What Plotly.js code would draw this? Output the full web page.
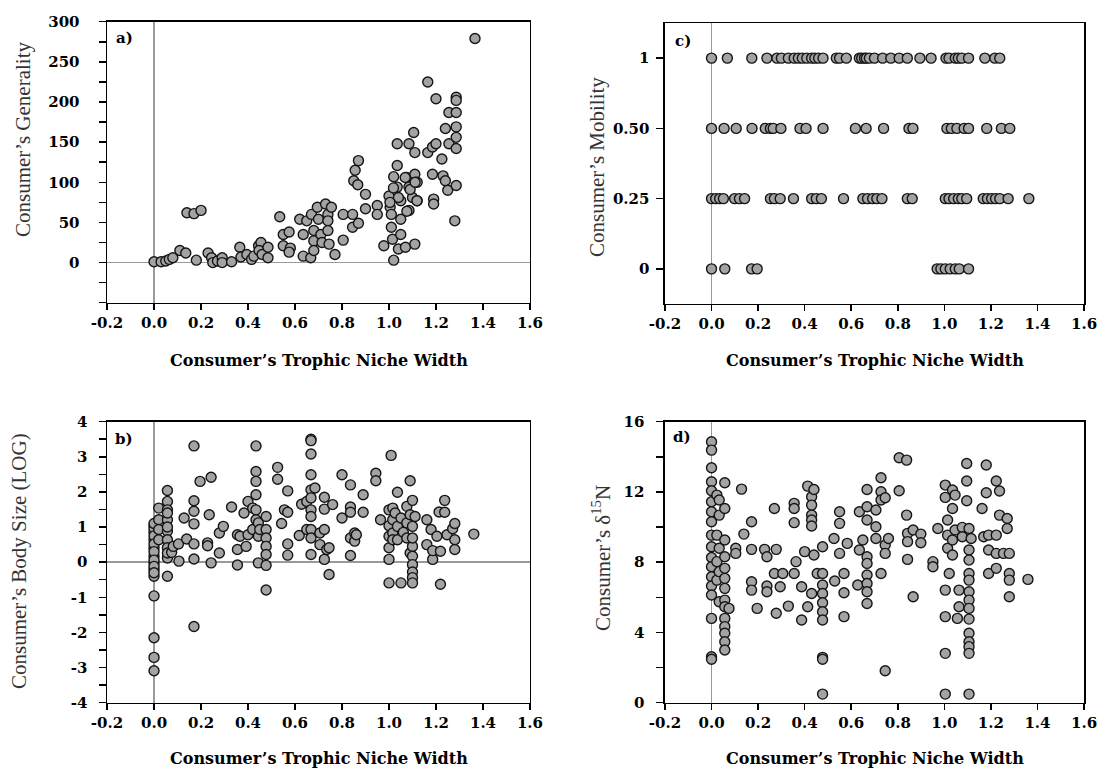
<!DOCTYPE html>
<html><head><meta charset="utf-8">
<script src="https://cdn.plot.ly/plotly-3.0.1.min.js"></script>
<style>html,body{margin:0;padding:0;background:#fff}#chart{width:1100px;height:778px}</style>
</head><body><div id="chart"></div><script>
// ---------- Panel a) Consumer's Generality ----------
const aX = [
 0,0.03,0.05,0.065,0.08,
 0.11,0.135,
 0.14,0.17,0.2,
 0.18,
 0.23,0.245,0.25,0.27,0.29,0.29,0.33,
 0.365,0.37,0.395,0.415,0.425,
 0.445,0.455,0.447,0.46,0.485,0.485,
 0.535,0.55,0.575,0.55,0.58,0.575,
 0.62,0.635,0.635,0.65,
 0.667,0.67,0.68,0.68,0.68,0.695,0.70,0.71,0.715,
 0.73,0.74,0.74,0.74,0.745,0.755,0.77,
 0.805,0.805,0.845,0.845,0.85,0.856,0.87,0.867,0.87,
 0.9,0.9,0.95,0.95,
 0.978,1.0,1.005,1.01,1.01,1.015,1.02,1.02,
 1.035,1.035,1.035,1.04,1.05,1.05,1.05,
 1.07,1.075,1.085,1.085,1.085,
 1.1,1.105,1.11,1.11,1.11,1.12,1.12,
 1.04,1.069,1.09,1.111,1.119,1.076,1.019,1.004,
 1.165,1.165,1.185,1.185,1.19,1.19,1.2,1.2,
 1.225,1.23,1.24,1.25,1.24,1.255,1.255,1.28,
 1.286,1.286,1.286,1.286,1.286,1.286,1.286,
 1.366];
const aY = [
 1,1,2,4,6,
 15,12,
 62,61,65,
 3,
 12,6,0,2,6,0,1,
 19,7,10,4,8,
 21,25,15,10,19,6,
 57,35,38,21,18,13,
 54,8,35,52,
 6,60,40,27,15,69,54,35,25,
 73,60,52,40,23,69,10,
 28,60,60,44,102,115,127,97,49,
 85,67,71,60,
 21,83,69,60,44,29,107,3,
 121,148,94,17,35,54,77,
 19,106,65,94,148,
 81,162,137,110,23,100,77,
 81,106,91,100,77,64,93,75,
 225,137,144,110,79,73,204,148,
 129,108,102,90,167,187,148,52,
 206,202,187,169,156,142,96,
 279];

// ---------- Panel c) Consumer's Mobility (ordinal levels) ----------
const mobilityLevels = ['0','0.25','0.50','1'];
const cX_1 = [0,0.068,0.173,0.238,0.281,0.30,0.33,0.355,0.373,0.39,0.409,0.43,0.444,0.46,0.479,0.536,0.55,0.579,0.635,0.645,0.657,0.665,0.678,0.70,0.735,0.77,0.806,0.841,0.895,0.943,1.007,1.02,1.047,1.06,1.075,1.104,1.174,1.217,1.238];
const cX_050 = [0,0.054,0.106,0.174,0.231,0.253,0.265,0.298,0.38,0.406,0.479,0.618,0.664,0.739,0.848,0.865,1.011,1.03,1.054,1.085,1.104,1.182,1.245,1.281];
const cX_025 = [0,0.018,0.035,0.051,0.099,0.12,0.142,0.253,0.27,0.295,0.352,0.43,0.45,0.472,0.567,0.65,0.67,0.692,0.71,0.732,0.841,0.862,1.004,1.02,1.04,1.06,1.075,1.096,1.167,1.185,1.203,1.22,1.238,1.274,1.363];
const cX_0 = [0,0.057,0.172,0.196,0.969,0.985,1.004,1.025,1.047,1.064,1.104];

// ---------- Panel b) Consumer's Body Size (LOG) ----------
const bX = [
 0,0,0,0,0,0,0,0,0,0,0,0,
 0,0,0,0,0,0,0,0,
 0.02,0.02,0.02,0.02,
 0.057,0.057,0.057,0.057,0.057,0.057,0.057,0.057,0.057,0.057,0.057,0.057,
 0.075,0.082,0.104,0.106,0.128,0.139,
 0.17,0.17,0.17,0.17,0.17,0.17,0.17,
 0.196,0.228,0.228,0.235,0.243,0.243,0.278,0.278,0.295,0.33,
 0.355,0.355,0.355,0.366,0.383,0.392,0.40,0.40,0.42,0.42,
 0.434,0.434,0.434,0.434,0.434,0.434,
 0.444,0.444,0.444,0.45,
 0.477,0.477,0.477,0.477,0.477,0.477,0.477,
 0.526,0.526,0.543,0.555,0.569,0.569,0.569,0.569,0.618,0.628,0.65,0.65,
 0.668,0.668,0.668,0.668,0.668,0.668,0.668,0.668,0.668,0.668,0.668,
 0.685,0.706,0.706,0.725,0.725,0.725,0.725,0.735,0.745,0.745,0.76,
 0.80,0.80,0.836,0.836,0.836,0.836,0.836,0.854,0.854,0.861,0.89,0.89,0.944,0.944,0.964,
 1.0,1.0,1.0,1.0,1.0,1.0,1.009,1.016,1.016,1.016,1.016,1.026,1.036,1.036,1.036,1.051,1.051,1.061,1.076,1.076,1.076,1.09,1.09,1.09,
 1.1,1.1,1.1,1.1,1.1,1.1,1.1,1.1,1.1,
 1.111,1.161,1.161,1.179,1.186,1.186,1.204,1.213,1.219,1.219,1.237,1.237,1.247,1.271,1.28,1.28,1.28,
 1.361];
const bY = [
 1.04,0.85,0.64,0.41,0.17,-0.02,-0.21,-0.40,-0.96,-2.15,-2.71,-3.09,
 0.95,0.75,0.52,0.30,0.06,-0.12,-0.30,1.10,
 1.54,1.21,0.93,0.64,
 2.04,1.73,1.49,1.21,0.88,0.64,0.41,0.12,-0.40,0.26,1.40,1.00,
 0.28,0.45,0.52,0.03,1.26,0.66,
 3.31,1.75,1.45,1.09,0.52,0.09,-1.83,
 2.30,0.55,0.47,1.35,2.42,-0.02,0.26,0.83,1.02,1.57,
 0.78,0.36,-0.08,0.74,1.40,0.45,1.73,0.78,1.54,0.93,
 3.31,2.58,2.30,1.92,1.49,1.21,
 1.12,0.74,-0.02,0.93,
 1.30,0.93,0.69,0.45,0.22,-0.09,-0.79,
 2.70,2.36,1.10,1.49,2.03,0.52,0.20,1.42,0.76,1.65,1.73,0.93,
 3.50,3.46,3.08,2.49,2.06,1.83,1.49,1.30,0.93,0.69,0.22,
 2.11,0.83,0.50,1.85,1.51,0.93,0.08,0.36,-0.35,0.41,1.64,
 2.49,1.26,2.20,1.57,1.42,0.69,0.19,0.83,0.60,0.78,1.92,1.42,2.53,2.32,1.21,
 1.49,1.04,0.74,0.41,0.08,-0.59,3.04,1.54,1.21,0.83,0.64,1.40,1.99,1.02,0.64,-0.59,1.26,0.85,1.59,1.12,0.69,2.32,1.35,0.26,
 1.76,1.02,0.45,0.17,-0.07,-0.28,-0.44,-0.59,0.69,
 1.30,1.21,0.50,0.93,0.08,0.33,0.74,1.43,-0.63,0.31,1.76,1.42,0.78,0.95,1.10,0.64,0.36,
 0.80];

// ---------- Panel d) Consumer's delta 15N ----------
const dX = [
 0,0,0,0,0,0,0,0,0,0,0,0,0,0,0,0,0,0,
 0.023,0.023,0.023,0.023,
 0.033,0.033,0.033,0.033,0.033,
 0.057,0.057,0.057,0.057,0.057,0.057,0.057,0.057,0.057,0.057,0.057,0.057,0.057,0.057,
 0.075,0.104,0.104,0.129,0.139,
 0.172,0.172,0.172,0.172,0.196,0.228,0.238,0.238,0.238,0.27,0.27,0.278,0.278,0.295,0.306,0.33,
 0.355,0.355,0.355,0.355,0.363,0.387,0.387,0.40,0.413,0.413,
 0.43,0.43,0.43,0.43,0.43,0.43,0.44,0.44,0.454,
 0.477,0.477,0.477,0.477,0.477,0.477,0.477,0.477,0.477,0.477,
 0.526,0.529,0.55,0.55,0.55,0.569,0.569,0.569,0.583,0.628,0.635,0.635,0.65,
 0.668,0.668,0.668,0.668,0.668,0.668,0.668,0.668,0.668,
 0.706,0.706,0.706,0.728,0.728,0.728,0.728,0.746,0.746,0.746,0.746,0.76,
 0.806,0.806,0.838,0.838,0.842,0.842,0.842,0.866,0.866,0.899,0.899,0.951,0.951,0.972,
 1.004,1.004,1.004,1.004,1.004,1.004,1.014,1.014,1.014,1.021,1.035,1.035,1.035,1.035,1.046,1.046,1.056,1.063,1.063,1.077,1.077,1.096,1.096,1.096,
 1.106,1.106,1.106,1.106,1.106,1.106,1.106,1.106,1.106,1.106,1.106,1.106,1.106,1.106,
 1.115,1.162,1.169,1.18,1.18,1.19,1.19,1.19,1.223,1.223,1.223,1.223,1.237,1.237,1.254,1.27,1.27,1.279,1.279,1.279,1.279,
 1.359];
const dY = [
 14.86,14.38,13.38,12.58,12.07,11.44,10.87,10.30,9.54,8.88,8.27,7.74,7.17,6.64,6.13,4.80,2.62,2.47,
 11.82,9.54,8.03,6.98,
 11.54,10.68,8.79,7.46,5.75,
 12.52,11.06,9.26,8.31,7.65,7.08,6.51,5.84,5.46,4.80,4.33,3.95,3.47,3.00,
 5.37,8.79,8.50,12.16,9.60,
 10.30,8.73,6.89,6.41,5.37,8.73,8.31,6.64,6.32,11.06,7.36,8.73,5.09,6.60,7.36,5.50,
 11.35,11.06,10.25,7.36,8.03,6.60,4.71,8.60,12.33,5.46,
 11.73,11.25,10.68,10.40,10.06,6.22,12.14,8.41,7.36,
 8.88,7.36,6.70,6.22,5.69,5.18,4.71,2.58,2.47,0.49,
 9.35,6.93,10.87,10.21,8.50,7.36,6.26,4.90,9.07,6.70,10.87,8.69,9.26,
 12.14,11.16,10.40,8.31,7.93,7.27,6.79,6.32,5.65,
 10.97,10.02,9.35,12.81,12.01,11.54,7.36,11.67,8.98,8.50,1.82,9.35,
 13.95,12.07,13.81,10.68,9.64,9.17,8.16,9.83,6.03,9.60,9.11,8.03,7.74,9.92,
 12.39,11.69,6.41,4.90,2.81,0.49,10.40,9.54,8.79,7.36,12.11,11.06,9.26,8.41,11.82,9.83,4.80,6.41,5.46,9.98,9.45,13.62,12.62,11.50,
 9.92,8.69,8.12,7.36,6.98,6.32,5.84,5.37,4.76,3.95,3.47,3.19,2.81,0.49,
 9.35,11.06,9.45,13.53,11.95,9.54,8.69,7.36,12.62,9.54,8.50,7.65,12.05,10.68,8.50,10.49,9.92,8.50,7.36,6.98,6.03,
 7.02];

// ---------- Axis tick labels ----------
const xTickVals = [-0.2,0,0.2,0.4,0.6,0.8,1.0,1.2,1.4,1.6];
const xTickText = ['-0.2','0.0','0.2','0.4','0.6','0.8','1.0','1.2','1.4','1.6'];
const aTickVals = [0,50,100,150,200,250,300];
const bTickVals = [-4,-3,-2,-1,0,1,2,3,4];
const dTickVals = [0,4,8,12,16];

const xTitle = 'Consumer\u2019s Trophic Niche Width';

// ---------- Build ----------
const marker = {size:10, color:'#a3a3a3', line:{color:'#151515', width:1.4}};
function tr(x, y, xa, ya){ return {type:'scatter', mode:'markers', x:x, y:y, xaxis:xa, yaxis:ya, marker:marker, hoverinfo:'x+y', cliponaxis:false}; }

const cX = [].concat(cX_0, cX_025, cX_050, cX_1);
const cY = [].concat(cX_0.map(()=>mobilityLevels[0]), cX_025.map(()=>mobilityLevels[1]), cX_050.map(()=>mobilityLevels[2]), cX_1.map(()=>mobilityLevels[3]));

const data = [
  tr(aX, aY, 'x', 'y'),
  tr(cX, cY, 'x2', 'y2'),
  tr(bX, bY, 'x3', 'y3'),
  tr(dX, dY, 'x4', 'y4')
];

const tickFont = {family:'DejaVu Serif', size:15, color:'#000', weight:700};
function xax(dom, anchor){
  return {domain:dom, anchor:anchor, range:[-0.2,1.6], tickmode:'array', tickvals:xTickVals, ticktext:xTickText,
    showline:true, mirror:true, linecolor:'#000', linewidth:1.5, ticks:'outside', ticklen:6, tickwidth:1.5, tickcolor:'#000',
    showgrid:false, zeroline:true, zerolinecolor:'#9a9a9a', zerolinewidth:1.5, tickfont:tickFont, fixedrange:true,
    ticklabeloverflow:'allow'};
}
function yax(dom, anchor, extra){
  return Object.assign({domain:dom, anchor:anchor, showline:true, mirror:true, linecolor:'#000', linewidth:1.5,
    ticks:'outside', ticklen:7, tickwidth:1.5, tickcolor:'#000', showgrid:false, tickfont:tickFont, fixedrange:true,
    ticklabeloverflow:'allow'}, extra);
}
const minorCfg = (t0, dt) => ({tickmode:'linear', tick0:t0, dtick:dt, ticks:'outside', ticklen:7, tickwidth:1.5, tickcolor:'#000', showgrid:false});

const W = 1100, H = 778;
const px = v => v / W, py = v => 1 - v / H;

const yTitleFont = {family:'Liberation Serif', size:21, color:'#333'};
const xTitleFont = {family:'DejaVu Serif', size:16, color:'#000', weight:700};
const letterFont = {family:'DejaVu Serif', size:15, color:'#000', weight:700};
function ann(text, x, y, font, angle){
  return {text:text, xref:'paper', yref:'paper', x:px(x), y:py(y), xanchor:'center', yanchor:'middle', showarrow:false, font:font, textangle:angle||0};
}

const layout = {
  width:W, height:H, margin:{l:0,r:0,t:0,b:0}, showlegend:false,
  paper_bgcolor:'#fff', plot_bgcolor:'#fff',
  xaxis: xax([0.0973,0.4818],'y'),
  yaxis: yax([0.6109,0.9721],'x',{range:[-50,300], tickmode:'array', tickvals:aTickVals, zeroline:true, zerolinecolor:'#9a9a9a', zerolinewidth:1.5, minor:minorCfg(-50,25), ticklabelstandoff:16}),
  xaxis2: xax([0.6045,0.9855],'y2'),
  yaxis2: yax([0.6093,0.9704],'x2',{type:'category', categoryorder:'array', categoryarray:mobilityLevels, range:[-0.5,3.5], zeroline:false, ticklabelstandoff:4}),
  xaxis3: xax([0.0973,0.4818],'y3'),
  yaxis3: yax([0.0968,0.458],'x3',{range:[-4,4], tickmode:'array', tickvals:bTickVals, ticktext:bTickVals.map(String), zeroline:true, zerolinecolor:'#9a9a9a', zerolinewidth:1.5, minor:minorCfg(-4,0.5), ticklabelstandoff:8}),
  xaxis4: xax([0.6045,0.9855],'y4'),
  yaxis4: yax([0.0968,0.458],'x4',{range:[0,16], tickmode:'array', tickvals:dTickVals, zeroline:false, minor:minorCfg(0,2), ticklabelstandoff:9}),
  annotations: [
    ann(xTitle, 318.5, 360, xTitleFont),
    ann(xTitle, 874.5, 360, xTitleFont),
    ann(xTitle, 318.5, 758, xTitleFont),
    ann(xTitle, 874.5, 758, xTitleFont),
    ann('Consumer\u2019s Generality', 23, 140, yTitleFont, -90),
    ann('Consumer\u2019s Mobility', 597, 167, yTitleFont, -90),
    ann('Consumer\u2019s Body Size (LOG)', 19, 561, yTitleFont, -90),
    ann('Consumer\u2019s \u03b4<sup>15</sup>N', 601, 558, yTitleFont, -90),
    ann('a)', 124, 38, letterFont),
    ann('c)', 683, 41, letterFont),
    ann('b)', 124, 439, letterFont),
    ann('d)', 682, 437, letterFont)
  ]
};

Plotly.newPlot('chart', data, layout, {displayModeBar:false, staticPlot:true});
</script></body></html>
